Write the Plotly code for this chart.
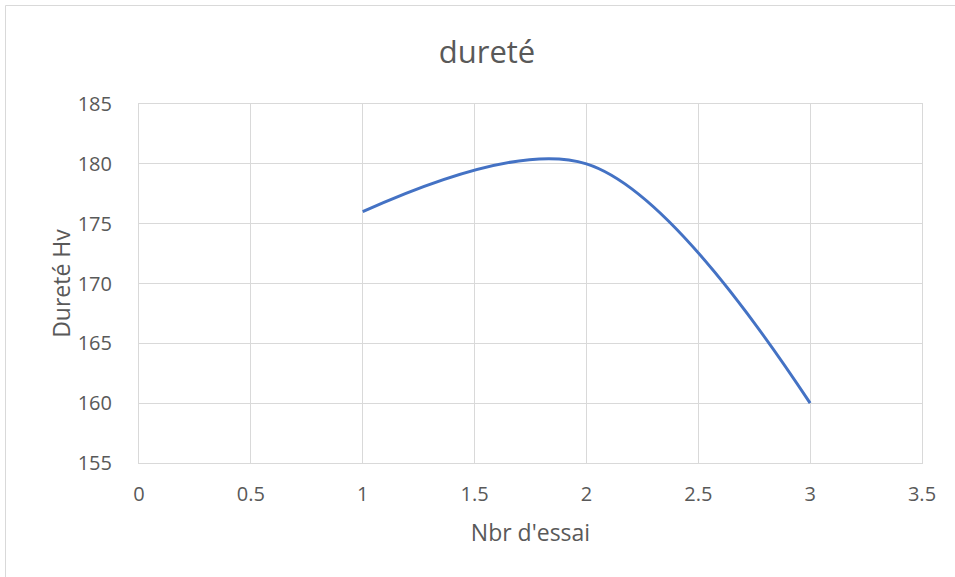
import plotly.graph_objects as go

essais = [1, 2, 3]
durete = [176, 180, 160]

x_ticks = [0, 0.5, 1, 1.5, 2, 2.5, 3, 3.5]
x_labels = ["0", "0.5", "1", "1.5", "2", "2.5", "3", "3.5"]
y_ticks = [155, 160, 165, 170, 175, 180, 185]

W, H = 955, 577
L, R, T, B = 139, 33, 104, 114
pw, ph = W - L - R, H - T - B

font_fam = "Open Sans, sans-serif"
gray = "#595959"
grid = "#d9d9d9"

fig = go.Figure()
fig.add_trace(go.Scatter(
    x=essais, y=durete, mode="lines",
    line=dict(color="#4472C4", width=3, shape="spline", smoothing=1.0),
    showlegend=False, hoverinfo="x+y",
))

fig.update_layout(
    width=W, height=H,
    margin=dict(l=L, r=R, t=T, b=B),
    paper_bgcolor="white", plot_bgcolor="white",
    title=dict(text="dureté", x=487 / W, xanchor="center", y=1 - 52 / H, yanchor="middle",
               font=dict(family=font_fam, size=31, color=gray)),
    xaxis=dict(range=[0, 3.5], tickvals=x_ticks, ticktext=x_labels,
               showgrid=True, gridcolor=grid, gridwidth=1,
               showline=True, linecolor=grid, linewidth=1, mirror=True,
               zeroline=False, ticks="", ticklabelstandoff=13,
               tickfont=dict(family=font_fam, size=20, color=gray),
               title=dict(text="Nbr d'essai", standoff=18,
                          font=dict(family=font_fam, size=23, color=gray))),
    yaxis=dict(range=[155, 185], tickvals=y_ticks,
               showgrid=True, gridcolor=grid, gridwidth=1,
               showline=True, linecolor=grid, linewidth=1, mirror=True,
               zeroline=False, ticks="", ticklabelstandoff=22,
               tickfont=dict(family=font_fam, size=20, color=gray),
               title=dict(text="Dureté Hv", standoff=0,
                          font=dict(family=font_fam, size=23, color=gray))),
    shapes=[dict(type="rect", xref="paper", yref="paper",
                 x0=(5.5 - L) / pw, x1=(W + 5 - L) / pw,
                 y0=-(H + 5 - T - ph) / ph, y1=1 + (T - 5.5) / ph,
                 line=dict(color="#d9d9d9", width=1), layer="below")],
)

fig.write_html("out.html")
